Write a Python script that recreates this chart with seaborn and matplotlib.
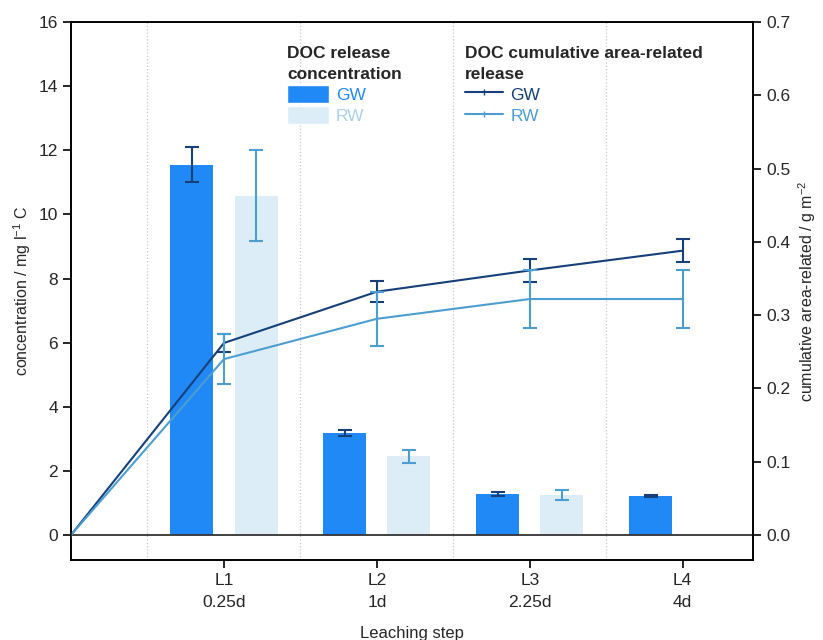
import pandas as pd
import numpy as np
import seaborn as sns
from matplotlib import pyplot as plt
from matplotlib.patches import Patch
from matplotlib.lines import Line2D

# datos
steps = [1, 2, 3, 4]
step_labels = ['L1\n0.25d', 'L2\n1d', 'L3\n2.25d', 'L4\n4d']

conc_gw = [11.55, 3.18, 1.28, 1.22]
conc_gw_err = [0.55, 0.08, 0.05, 0.03]
conc_rw = [10.58, 2.46, 1.25, np.nan]
conc_rw_err = [1.42, 0.20, 0.15, np.nan]

cum_steps = [0, 1, 2, 3, 4]
cum_gw = [0.0, 0.262, 0.332, 0.361, 0.388]
cum_gw_err = [0.0, 0.012, 0.014, 0.016, 0.016]
cum_rw = [0.0, 0.240, 0.295, 0.322, 0.322]
cum_rw_err = [0.0, 0.034, 0.037, 0.039, 0.039]

bar_colors = {'GW': '#2189f5', 'RW': '#dcedf7'}
line_colors = {'GW': '#15407a', 'RW': '#4c9ed1'}

sns.set_style('ticks')
plt.rcParams['font.family'] = ['Liberation Sans', 'DejaVu Sans']
plt.rcParams['mathtext.default'] = 'regular'

df_bar = pd.DataFrame({
    'step': steps * 2,
    'water': ['GW'] * 4 + ['RW'] * 4,
    'conc': conc_gw + conc_rw,
}).dropna()

df_cum = pd.DataFrame({
    'step': cum_steps * 2,
    'water': ['GW'] * 5 + ['RW'] * 5,
    'cum': cum_gw + cum_rw,
})

fig, ax = plt.subplots(figsize=(8.23, 6.4), dpi=100)
fig.subplots_adjust(left=0.0863, right=0.915, top=0.9656, bottom=0.125)

# barras de concentracion
sns.barplot(data=df_bar, x='step', y='conc', hue='water', native_scale=True,
            width=0.84, gap=0.33, palette=bar_colors, saturation=1, errorbar=None,
            legend=False, linewidth=0, ax=ax)
off = 0.21
ax.errorbar(np.array(steps) - off, conc_gw, yerr=conc_gw_err, fmt='none',
            ecolor=line_colors['GW'], capsize=5, elinewidth=1.5, capthick=1.5)
ax.errorbar(np.array(steps) + off, conc_rw, yerr=conc_rw_err, fmt='none',
            ecolor=line_colors['RW'], capsize=5, elinewidth=1.5, capthick=1.5)
ax.axhline(0, color='#333333', lw=1.3, zorder=1)

ax.set_xlim(0, 4.46)
ax.set_ylim(-0.78, 16)
ax.set_xticks(steps, step_labels, fontsize=12.5, linespacing=1.6)
ax.set_xticks([0.5, 1.5, 2.5, 3.5], minor=True)
ax.tick_params(axis='x', which='minor', length=0)
ax.set_yticks(range(0, 17, 2))
ax.tick_params(axis='y', labelsize=12.5)
ax.tick_params(which='major', length=6, width=1.2, color='black')
ax.grid(axis='x', which='minor', ls=':', color='#c8c8c8', lw=0.9)
ax.set_axisbelow(True)
ax.set_xlabel('Leaching step', fontsize=12, labelpad=11)
ax.set_ylabel('concentration / mg l$^{-1}$ C', fontsize=11.5)

# lineas acumuladas
ax2 = ax.twinx()
sns.lineplot(data=df_cum, x='step', y='cum', hue='water', palette=line_colors,
             marker='|', markersize=4, lw=1.5, legend=False, ax=ax2)
ax2.errorbar(cum_steps[1:], cum_gw[1:], yerr=cum_gw_err[1:], fmt='none',
             ecolor=line_colors['GW'], capsize=5, elinewidth=1.5, capthick=1.5)
ax2.errorbar(cum_steps[1:], cum_rw[1:], yerr=cum_rw_err[1:], fmt='none',
             ecolor=line_colors['RW'], capsize=5, elinewidth=1.5, capthick=1.5)
ax2.set_ylim(-0.78 * 0.7 / 16, 0.7)
ax2.set_yticks(np.arange(0, 0.71, 0.1), [f'{v:.1f}' for v in np.arange(0, 0.71, 0.1)])
ax2.tick_params(axis='y', labelsize=12.5, length=6, width=1.2, color='black')
ax2.set_ylabel('cumulative area-related / g m$^{-2}$', fontsize=11.5)
ax2.set_xlabel('Leaching step', fontsize=12, labelpad=11)

for a in (ax, ax2):
    for s in a.spines.values():
        s.set_color('black')
        s.set_linewidth(1.2)

# leyendas
h1 = [Patch(facecolor=bar_colors['GW']), Patch(facecolor=bar_colors['RW'])]
leg1 = ax2.legend(h1, ['GW', 'RW'], title='DOC release\nconcentration',
                  loc='upper left', bbox_to_anchor=(0.317, 0.955), frameon=False,
                  alignment='left', labelcolor=[bar_colors['GW'], '#a9d0ea'],
                  title_fontproperties={'weight': 'bold', 'size': 12.5}, fontsize=12.5,
                  handlelength=2.4, handleheight=1.2, borderpad=0, borderaxespad=0,
                  handletextpad=0.4, labelspacing=0.2)
leg1.get_title().set_linespacing(1.45)
ax2.add_artist(leg1)
h2 = [Line2D([], [], color=line_colors['GW'], marker='|', markersize=4, lw=1.5),
      Line2D([], [], color=line_colors['RW'], marker='|', markersize=4, lw=1.5)]
leg2 = ax2.legend(h2, ['GW', 'RW'], title='DOC cumulative area-related\nrelease',
                  loc='upper left', bbox_to_anchor=(0.578, 0.955), frameon=False,
                  alignment='left', labelcolor=[line_colors['GW'], line_colors['RW']],
                  title_fontproperties={'weight': 'bold', 'size': 12.5}, fontsize=12.5,
                  handlelength=2.2, handleheight=1.2, borderpad=0, borderaxespad=0,
                  handletextpad=0.4, labelspacing=0.2)
leg2.get_title().set_linespacing(1.45)

plt.savefig('out.png', dpi=100)
